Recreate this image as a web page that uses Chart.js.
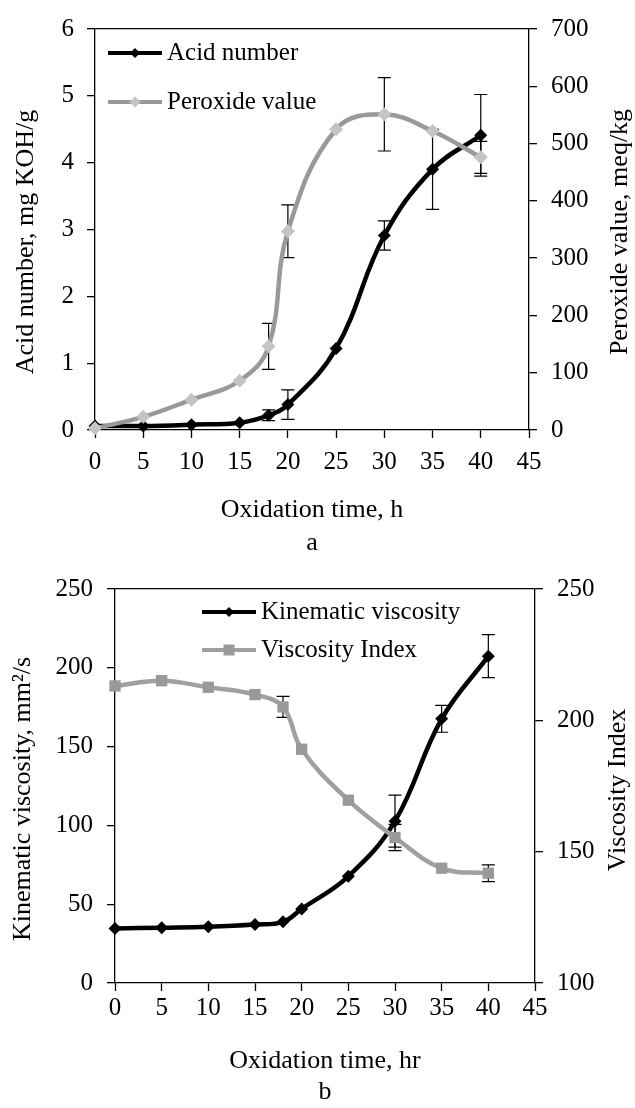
<!DOCTYPE html>
<html>
<head>
<meta charset="utf-8">
<script src="https://cdn.jsdelivr.net/npm/chart.js@4/dist/chart.umd.min.js"></script>
<style>
html,body{margin:0;padding:0;background:#fff}
#caixaA{position:absolute;left:0;top:0;width:635px;height:560px}
#caixaB{position:absolute;left:0;top:560px;width:635px;height:548px}
</style>
</head>
<body>
<div id="caixaA"><canvas id="graficoA"></canvas></div>
<div id="caixaB"><canvas id="graficoB"></canvas></div>
<script>

// tempo de oxidacao (h)
const tempo=[0,5,10,15,18,20,25,30,35,40]

// grafico a
const acidez=[0.06,0.06,0.08,0.11,0.22,0.38,1.22,2.91,3.90,4.41]
const erroAcidez=[0,0,0,0,0.08,0.22,0,0.22,0.6,0.61]
const peroxido=[3,23,53,86,146,347,525,551,522,476]
const erroPeroxido=[0,0,0,0,40,46,0,64,0,28]

// grafico b
const viscosidade=[34.6,35.1,35.7,37.1,38.8,47,67.7,102.7,167.6,207.4]
const erroViscosidade=[0,0,0,0,0,0,0,16.5,8.5,13.6]
const indice=[213.1,215.1,212.6,209.8,205.1,189,169.6,155.4,143.7,141.8]
const erroIndice=[0,0,0,0,4,0,0,5,0,3.2]

// ticks
const ticksTempo=[0,5,10,15,20,25,30,35,40,45]
const ticksAcidez=[0,1,2,3,4,5,6]
const ticksPeroxido=[0,100,200,300,400,500,600,700]
const ticksViscosidade=[0,50,100,150,200,250]
const ticksIndice=[100,150,200,250]

const fonte='"Liberation Serif", "Times New Roman", serif'
Chart.defaults.font.family=fonte
Chart.defaults.color='#000'

function pontos(valores){
return tempo.map((t,i)=>({x:t,y:valores[i]}))
}

const pluginErro={
id:'erro',
beforeDatasetsDraw(chart){
let ctx=chart.ctx
chart.data.datasets.forEach(ds=>{
if(!ds.erro)return
let sx=chart.scales.x
let sy=chart.scales[ds.yAxisID]
ds.data.forEach((p,j)=>{
let e=ds.erro[j]
if(!e)return
let x=sx.getPixelForValue(p.x)
let y1=sy.getPixelForValue(p.y+e)
let y2=sy.getPixelForValue(p.y-e)
ctx.save()
ctx.strokeStyle='#000'
ctx.lineWidth=1.2
ctx.beginPath()
ctx.moveTo(x,y1);ctx.lineTo(x,y2)
ctx.moveTo(x-6.5,y1);ctx.lineTo(x+6.5,y1)
ctx.moveTo(x-6.5,y2);ctx.lineTo(x+6.5,y2)
ctx.stroke()
ctx.restore()
})
})
}
}

function marcador(ctx,tipo,x,y,r,cor){
ctx.fillStyle=cor
ctx.beginPath()
if(tipo==='rectRot'){
ctx.moveTo(x,y-r);ctx.lineTo(x+r,y);ctx.lineTo(x,y+r);ctx.lineTo(x-r,y)
}else{
ctx.rect(x-r,y-r,2*r,2*r)
}
ctx.closePath()
ctx.fill()
}

function pluginExtras(legenda,titulos){
return{
id:'extras',
afterDraw(chart){
let ctx=chart.ctx
legenda.forEach(l=>{
ctx.save()
ctx.strokeStyle=l.linha
ctx.lineWidth=4
ctx.beginPath()
ctx.moveTo(l.x,l.y);ctx.lineTo(l.x+54,l.y)
ctx.stroke()
marcador(ctx,l.tipo,l.x+27,l.y,l.r,l.cor)
ctx.font='25px '+fonte
ctx.fillStyle='#000'
ctx.textAlign='left'
ctx.textBaseline='middle'
ctx.fillText(l.texto,l.x+59,l.y)
ctx.restore()
})
titulos.forEach(t=>{
ctx.save()
ctx.translate(t.x,t.y)
ctx.rotate(-Math.PI/2)
ctx.font='26px '+fonte
ctx.fillStyle='#000'
ctx.textAlign='center'
ctx.textBaseline='middle'
ctx.fillText(t.texto,0,0)
ctx.restore()
})
}
}
}

function eixoY(ticks,posicao,largura,padding,topo){
return{
type:'linear',
position:posicao,
min:ticks[0],
max:ticks[ticks.length-1],
afterBuildTicks:s=>{s.ticks=ticks.map(v=>({value:v}))},
afterFit:s=>{s.width=largura},
grid:{
drawOnChartArea:topo,
color:c=>(c.tick&&c.tick.value===ticks[ticks.length-1])?'#000':'rgba(0,0,0,0)',
lineWidth:1.3,
tickColor:'#000',
tickLength:8,
tickWidth:1.3
},
border:{display:true,color:'#000',width:1.3},
ticks:{padding:padding,color:'#000',font:{size:25}}
}
}

function eixoX(titulo,altura,padding,alturaLinha){
return{
type:'linear',
min:0,
max:45,
afterBuildTicks:s=>{s.ticks=ticksTempo.map(v=>({value:v}))},
afterFit:s=>{s.height=altura},
grid:{drawOnChartArea:false,tickColor:'#000',tickLength:8,tickWidth:1.3},
border:{display:true,color:'#000',width:1.3},
ticks:{padding:padding,color:'#000',font:{size:25},maxRotation:0,autoSkip:false},
title:{display:true,text:titulo,color:'#000',font:{size:26,lineHeight:alturaLinha},padding:{top:0,bottom:0}}
}
}

function serie(rotulo,valores,erro,eixo,linha,cor,tipo,raio,ordem,largura){
return{
label:rotulo,
data:pontos(valores),
erro:erro,
yAxisID:eixo,
borderColor:linha,
backgroundColor:cor,
borderWidth:largura,
pointStyle:tipo,
pointRadius:raio,
pointBorderWidth:0,
pointBackgroundColor:cor,
tension:0.4,
clip:false,
order:ordem
}
}

new Chart(document.getElementById('graficoA'),{
type:'line',
data:{
datasets:[
serie('Acid number',acidez,erroAcidez,'y','#000','#000','rectRot',6.5,2,4.5),
serie('Peroxide value',peroxido,erroPeroxido,'y2','#999999','#c4c4c4','rectRot',7,1,4.5)
]
},
options:{
responsive:true,
maintainAspectRatio:false,
animation:false,
layout:{autoPadding:false,padding:{top:21,left:0,right:0,bottom:0}},
plugins:{legend:{display:false},tooltip:{enabled:false}},
scales:{
x:eixoX(['Oxidation time, h','a'],130,9,1.27),
y:eixoY(ticksAcidez,'left',95,13,true),
y2:eixoY(ticksPeroxido,'right',106,14,false)
}
},
plugins:[
pluginErro,
pluginExtras(
[
{texto:'Acid number',x:108,y:53,linha:'#000',cor:'#000',tipo:'rectRot',r:5},
{texto:'Peroxide value',x:108,y:102,linha:'#999999',cor:'#c4c4c4',tipo:'rectRot',r:5.5}
],
[
{texto:'Acid number, mg KOH/g',x:26,y:242},
{texto:'Peroxide value, meq/kg',x:620,y:232}
]
)
]
})

new Chart(document.getElementById('graficoB'),{
type:'line',
data:{
datasets:[
serie('Kinematic viscosity',viscosidade,erroViscosidade,'y','#000','#000','rectRot',6.5,2,4.5),
serie('Viscosity Index',indice,erroIndice,'y2','#a0a0a0','#999999','rect',8,1,4.5)
]
},
options:{
responsive:true,
maintainAspectRatio:false,
animation:false,
layout:{autoPadding:false,padding:{top:18,left:0,right:0,bottom:0}},
plugins:{legend:{display:false},tooltip:{enabled:false}},
scales:{
x:eixoX(['Oxidation time, hr','b'],125,2,1.2),
y:eixoY(ticksViscosidade,'left',115,14,true),
y2:eixoY(ticksIndice,'right',100,14,false)
}
},
plugins:[
pluginErro,
pluginExtras(
[
{texto:'Kinematic viscosity',x:202,y:52,linha:'#000',cor:'#000',tipo:'rectRot',r:5},
{texto:'Viscosity Index',x:202,y:90,linha:'#a0a0a0',cor:'#999999',tipo:'rect',r:5.5}
],
[
{texto:'Kinematic viscosity, mm²/s',x:23,y:239},
{texto:'Viscosity Index',x:618,y:230}
]
)
]
})

</script>
</body>
</html>
